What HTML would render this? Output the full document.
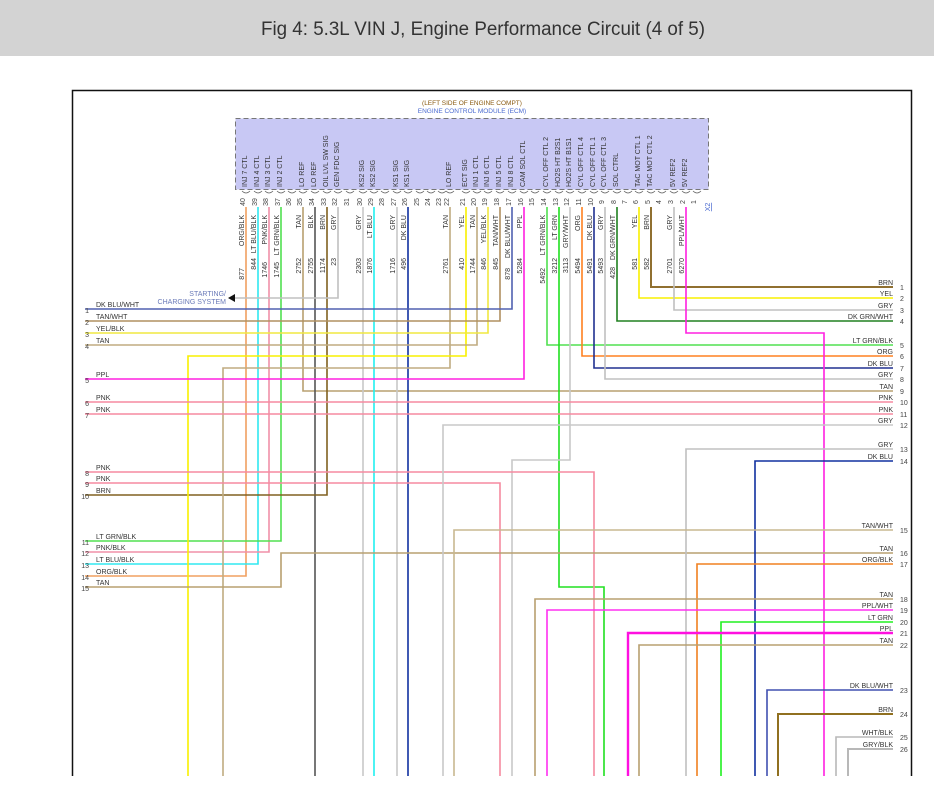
<!DOCTYPE html>
<html><head><meta charset="utf-8"><style>
html,body{margin:0;padding:0;background:#fff;}
svg{display:block;font-family:"Liberation Sans",sans-serif;}
.t{font-size:7px;fill:#333;}
.n{font-size:7px;fill:#444;}
</style></head><body>
<svg width="934" height="805" viewBox="0 0 934 805" xmlns="http://www.w3.org/2000/svg">
<rect x="0" y="0" width="934" height="56" fill="#d3d3d3"/>
<text x="483" y="35" text-anchor="middle" font-size="19" fill="#333" textLength="444" lengthAdjust="spacingAndGlyphs">Fig 4: 5.3L VIN J, Engine Performance Circuit (4 of 5)</text>
<path d="M72.5 776 V90.5 H911.5 V776" fill="none" stroke="#111" stroke-width="1.5"/>

<text x="472" y="105" text-anchor="middle" font-size="6.5" fill="#8a5a10">(LEFT SIDE OF ENGINE COMPT)</text>
<text x="472" y="113" text-anchor="middle" font-size="6.5" fill="#4a6ad0">ENGINE CONTROL MODULE (ECM)</text>
<rect x="235.5" y="118.5" width="473" height="71" fill="#c8c8f4" stroke="#777" stroke-dasharray="5,3"/>

<g fill="none" stroke-width="1.6">
<polyline points="246,207 246,576 85,576" stroke="#f0a060"/>
<polyline points="258,207 258,564 85,564" stroke="#30e8f0"/>
<polyline points="269,207 269,552 85,552" stroke="#f090a8"/>
<polyline points="281,207 281,541 85,541" stroke="#50e050"/>
<polyline points="303,207 303,391 893,391" stroke="#b8a070"/>
<polyline points="315,207 315,776" stroke="#555"/>
<polyline points="327,207 327,495 85,495" stroke="#806020"/>
<polyline points="338,207 338,298 232,298" stroke="#c0c0c0"/>
<polyline points="363,207 363,776" stroke="#c8c8c8"/>
<polyline points="374,207 374,776" stroke="#20f0f0"/>
<polyline points="397,207 397,776" stroke="#c8c8c8"/>
<polyline points="408,207 408,776" stroke="#1030a0"/>
<polyline points="450,207 450,368 223,368 223,776" stroke="#c0ac80"/>
<polyline points="466,207 466,356 188,356 188,776" stroke="#f8f000"/>
<polyline points="477,207 477,345 85,345" stroke="#c0ac80"/>
<polyline points="488,207 488,333 85,333" stroke="#f0e840"/>
<polyline points="500,207 500,321 85,321" stroke="#b09060"/>
<polyline points="512,207 512,309 85,309" stroke="#5060b0"/>
<polyline points="524,207 524,379 85,379" stroke="#ff20e0"/>
<polyline points="547,207 547,345 893,345" stroke="#50e050"/>
<polyline points="559,207 559,587 604,587 604,776" stroke="#20e020"/>
<polyline points="570,207 570,460 512,460 512,776" stroke="#c8c8c8"/>
<polyline points="582,207 582,356 893,356" stroke="#ff8020"/>
<polyline points="594,207 594,368 893,368" stroke="#203090"/>
<polyline points="605,207 605,379 893,379" stroke="#c0c0c0"/>
<polyline points="617,207 617,321 893,321" stroke="#208020"/>
<polyline points="639,207 639,298 893,298" stroke="#f8f000"/>
<polyline points="651,207 651,287 893,287" stroke="#907030" stroke-width="2"/>
<polyline points="674,207 674,310 893,310" stroke="#c0c0c0"/>
<polyline points="686,207 686,333 824,333 824,776" stroke="#ff20e0"/>
<polyline points="85,402 893,402" stroke="#f58aa0"/>
<polyline points="85,414 893,414" stroke="#f58aa0"/>
<polyline points="85,472 594,472 594,776" stroke="#f58aa0"/>
<polyline points="85,483 500,483 500,776" stroke="#f58aa0"/>
<polyline points="85,587 281,587 281,553 893,553" stroke="#b8a070"/>
<polyline points="893,425 443,425 443,776" stroke="#c8c8c8"/>
<polyline points="893,449 686,449 686,776" stroke="#c0c0c0"/>
<polyline points="893,461 755,461 755,776" stroke="#1030a0"/>
<polyline points="893,530 454,530 454,776" stroke="#c8b890"/>
<polyline points="893,564 697,564 697,776" stroke="#f08020"/>
<polyline points="893,599 535,599 535,776" stroke="#b8a070"/>
<polyline points="893,610 547,610 547,776" stroke="#ff30f0"/>
<polyline points="893,622 721,622 721,776" stroke="#20f020"/>
<polyline points="893,633 628,633 628,776" stroke="#ff10e0" stroke-width="2.4"/>
<polyline points="893,645 639,645 639,776" stroke="#b8a070"/>
<polyline points="893,690 767,690 767,776" stroke="#4050b0"/>
<polyline points="893,714 778,714 778,776" stroke="#907020" stroke-width="2"/>
<polyline points="893,737 836,737 836,776" stroke="#b8b8b8"/>
<polyline points="893,749 848,749 848,776" stroke="#b8b8b8" stroke-width="2"/>
</g>
<polygon points="228,298 235,294 235,302" fill="#111"/>
<text x="226" y="296" text-anchor="end" font-size="7" fill="#6a7ab8">STARTING/</text>
<text x="226" y="304" text-anchor="end" font-size="7" fill="#6a7ab8">CHARGING SYSTEM</text>

<g fill="none" stroke="#666" stroke-width="0.8">
<path d="M242 191q4 4 8 0M254 191q4 4 8 0M265 191q4 4 8 0M277 191q4 4 8 0M288 191q4 4 8 0M299 191q4 4 8 0M311 191q4 4 8 0M323 191q4 4 8 0M334 191q4 4 8 0M346 191q4 4 8 0M359 191q4 4 8 0M370 191q4 4 8 0M381 191q4 4 8 0M393 191q4 4 8 0M404 191q4 4 8 0M416 191q4 4 8 0M427 191q4 4 8 0M438 191q4 4 8 0M446 191q4 4 8 0M462 191q4 4 8 0M473 191q4 4 8 0M484 191q4 4 8 0M496 191q4 4 8 0M508 191q4 4 8 0M520 191q4 4 8 0M531 191q4 4 8 0M543 191q4 4 8 0M555 191q4 4 8 0M566 191q4 4 8 0M578 191q4 4 8 0M590 191q4 4 8 0M601 191q4 4 8 0M613 191q4 4 8 0M624 191q4 4 8 0M635 191q4 4 8 0M647 191q4 4 8 0M658 191q4 4 8 0M670 191q4 4 8 0M682 191q4 4 8 0M693 191q4 4 8 0"/>
</g>

<g class="t">
<text transform="translate(247,187) rotate(-90)">INJ 7 CTL</text>
<text transform="translate(259,187) rotate(-90)">INJ 4 CTL</text>
<text transform="translate(270,187) rotate(-90)">INJ 3 CTL</text>
<text transform="translate(282,187) rotate(-90)">INJ 2 CTL</text>
<text transform="translate(304,187) rotate(-90)">LO REF</text>
<text transform="translate(316,187) rotate(-90)">LO REF</text>
<text transform="translate(328,187) rotate(-90)">OIL LVL SW SIG</text>
<text transform="translate(339,187) rotate(-90)">GEN FDC SIG</text>
<text transform="translate(364,187) rotate(-90)">KS2 SIG</text>
<text transform="translate(375,187) rotate(-90)">KS2 SIG</text>
<text transform="translate(398,187) rotate(-90)">KS1 SIG</text>
<text transform="translate(409,187) rotate(-90)">KS1 SIG</text>
<text transform="translate(451,187) rotate(-90)">LO REF</text>
<text transform="translate(467,187) rotate(-90)">ECT SIG</text>
<text transform="translate(478,187) rotate(-90)">INJ 1 CTL</text>
<text transform="translate(489,187) rotate(-90)">INJ 6 CTL</text>
<text transform="translate(501,187) rotate(-90)">INJ 5 CTL</text>
<text transform="translate(513,187) rotate(-90)">INJ 8 CTL</text>
<text transform="translate(525,187) rotate(-90)">CAM SOL CTL</text>
<text transform="translate(548,187) rotate(-90)">CYL OFF CTL 2</text>
<text transform="translate(560,187) rotate(-90)">HO2S HT B2S1</text>
<text transform="translate(571,187) rotate(-90)">HO2S HT B1S1</text>
<text transform="translate(583,187) rotate(-90)">CYL OFF CTL 4</text>
<text transform="translate(595,187) rotate(-90)">CYL OFF CTL 1</text>
<text transform="translate(606,187) rotate(-90)">CYL OFF CTL 3</text>
<text transform="translate(618,187) rotate(-90)">SOL CTRL</text>
<text transform="translate(640,187) rotate(-90)">TAC MOT CTL 1</text>
<text transform="translate(652,187) rotate(-90)">TAC MOT CTL 2</text>
<text transform="translate(675,187) rotate(-90)">5V REF2</text>
<text transform="translate(687,187) rotate(-90)">5V REF2</text>
</g>

<g class="n" text-anchor="middle">
<text transform="translate(245,202) rotate(-90)">40</text>
<text transform="translate(257,202) rotate(-90)">39</text>
<text transform="translate(268,202) rotate(-90)">38</text>
<text transform="translate(280,202) rotate(-90)">37</text>
<text transform="translate(291,202) rotate(-90)">36</text>
<text transform="translate(302,202) rotate(-90)">35</text>
<text transform="translate(314,202) rotate(-90)">34</text>
<text transform="translate(326,202) rotate(-90)">33</text>
<text transform="translate(337,202) rotate(-90)">32</text>
<text transform="translate(349,202) rotate(-90)">31</text>
<text transform="translate(362,202) rotate(-90)">30</text>
<text transform="translate(373,202) rotate(-90)">29</text>
<text transform="translate(384,202) rotate(-90)">28</text>
<text transform="translate(396,202) rotate(-90)">27</text>
<text transform="translate(407,202) rotate(-90)">26</text>
<text transform="translate(419,202) rotate(-90)">25</text>
<text transform="translate(430,202) rotate(-90)">24</text>
<text transform="translate(441,202) rotate(-90)">23</text>
<text transform="translate(449,202) rotate(-90)">22</text>
<text transform="translate(465,202) rotate(-90)">21</text>
<text transform="translate(476,202) rotate(-90)">20</text>
<text transform="translate(487,202) rotate(-90)">19</text>
<text transform="translate(499,202) rotate(-90)">18</text>
<text transform="translate(511,202) rotate(-90)">17</text>
<text transform="translate(523,202) rotate(-90)">16</text>
<text transform="translate(534,202) rotate(-90)">15</text>
<text transform="translate(546,202) rotate(-90)">14</text>
<text transform="translate(558,202) rotate(-90)">13</text>
<text transform="translate(569,202) rotate(-90)">12</text>
<text transform="translate(581,202) rotate(-90)">11</text>
<text transform="translate(593,202) rotate(-90)">10</text>
<text transform="translate(604,202) rotate(-90)">9</text>
<text transform="translate(616,202) rotate(-90)">8</text>
<text transform="translate(627,202) rotate(-90)">7</text>
<text transform="translate(638,202) rotate(-90)">6</text>
<text transform="translate(650,202) rotate(-90)">5</text>
<text transform="translate(661,202) rotate(-90)">4</text>
<text transform="translate(673,202) rotate(-90)">3</text>
<text transform="translate(685,202) rotate(-90)">2</text>
<text transform="translate(696,202) rotate(-90)">1</text>
</g>
<text transform="translate(710,207) rotate(-90)" text-anchor="middle" font-size="7" fill="#4a6ad0" text-decoration="underline">X2</text>

<g class="t" text-anchor="end">
<text transform="translate(244,215) rotate(-90)">ORG/BLK</text>
<text transform="translate(256,215) rotate(-90)">LT BLU/BLK</text>
<text transform="translate(267,215) rotate(-90)">PNK/BLK</text>
<text transform="translate(279,215) rotate(-90)">LT GRN/BLK</text>
<text transform="translate(301,215) rotate(-90)">TAN</text>
<text transform="translate(313,215) rotate(-90)">BLK</text>
<text transform="translate(325,215) rotate(-90)">BRN</text>
<text transform="translate(336,215) rotate(-90)">GRY</text>
<text transform="translate(361,215) rotate(-90)">GRY</text>
<text transform="translate(372,215) rotate(-90)">LT BLU</text>
<text transform="translate(395,215) rotate(-90)">GRY</text>
<text transform="translate(406,215) rotate(-90)">DK BLU</text>
<text transform="translate(448,215) rotate(-90)">TAN</text>
<text transform="translate(464,215) rotate(-90)">YEL</text>
<text transform="translate(475,215) rotate(-90)">TAN</text>
<text transform="translate(486,215) rotate(-90)">YEL/BLK</text>
<text transform="translate(498,215) rotate(-90)">TAN/WHT</text>
<text transform="translate(510,215) rotate(-90)">DK BLU/WHT</text>
<text transform="translate(522,215) rotate(-90)">PPL</text>
<text transform="translate(545,215) rotate(-90)">LT GRN/BLK</text>
<text transform="translate(557,215) rotate(-90)">LT GRN</text>
<text transform="translate(568,215) rotate(-90)">GRY/WHT</text>
<text transform="translate(580,215) rotate(-90)">ORG</text>
<text transform="translate(592,215) rotate(-90)">DK BLU</text>
<text transform="translate(603,215) rotate(-90)">GRY</text>
<text transform="translate(615,215) rotate(-90)">DK GRN/WHT</text>
<text transform="translate(637,215) rotate(-90)">YEL</text>
<text transform="translate(649,215) rotate(-90)">BRN</text>
<text transform="translate(672,215) rotate(-90)">GRY</text>
<text transform="translate(684,215) rotate(-90)">PPL/WHT</text>

<text transform="translate(244,268) rotate(-90)">877</text>
<text transform="translate(256,258) rotate(-90)">844</text>
<text transform="translate(267,262) rotate(-90)">1746</text>
<text transform="translate(279,262) rotate(-90)">1745</text>
<text transform="translate(301,258) rotate(-90)">2752</text>
<text transform="translate(313,258) rotate(-90)">2755</text>
<text transform="translate(325,258) rotate(-90)">1174</text>
<text transform="translate(336,258) rotate(-90)">23</text>
<text transform="translate(361,258) rotate(-90)">2303</text>
<text transform="translate(372,258) rotate(-90)">1876</text>
<text transform="translate(395,258) rotate(-90)">1716</text>
<text transform="translate(406,258) rotate(-90)">496</text>
<text transform="translate(448,258) rotate(-90)">2761</text>
<text transform="translate(464,258) rotate(-90)">410</text>
<text transform="translate(475,258) rotate(-90)">1744</text>
<text transform="translate(486,258) rotate(-90)">846</text>
<text transform="translate(498,258) rotate(-90)">845</text>
<text transform="translate(510,268) rotate(-90)">878</text>
<text transform="translate(522,258) rotate(-90)">5284</text>
<text transform="translate(545,268) rotate(-90)">5492</text>
<text transform="translate(557,258) rotate(-90)">3212</text>
<text transform="translate(568,258) rotate(-90)">3113</text>
<text transform="translate(580,258) rotate(-90)">5494</text>
<text transform="translate(592,258) rotate(-90)">5491</text>
<text transform="translate(603,258) rotate(-90)">5493</text>
<text transform="translate(615,267) rotate(-90)">428</text>
<text transform="translate(637,258) rotate(-90)">581</text>
<text transform="translate(649,258) rotate(-90)">582</text>
<text transform="translate(672,258) rotate(-90)">2701</text>
<text transform="translate(684,258) rotate(-90)">6270</text>
</g>

<g class="t">
<text x="96" y="307">DK BLU/WHT</text><text x="96" y="319">TAN/WHT</text><text x="96" y="331">YEL/BLK</text><text x="96" y="343">TAN</text>
<text x="96" y="377">PPL</text><text x="96" y="400">PNK</text><text x="96" y="412">PNK</text>
<text x="96" y="470">PNK</text><text x="96" y="481">PNK</text><text x="96" y="493">BRN</text>
<text x="96" y="539">LT GRN/BLK</text><text x="96" y="550">PNK/BLK</text><text x="96" y="562">LT BLU/BLK</text><text x="96" y="574">ORG/BLK</text><text x="96" y="585">TAN</text>
</g>
<g class="n" text-anchor="end">
<text x="89" y="313">1</text><text x="89" y="325">2</text><text x="89" y="337">3</text><text x="89" y="349">4</text>
<text x="89" y="383">5</text><text x="89" y="406">6</text><text x="89" y="418">7</text>
<text x="89" y="476">8</text><text x="89" y="487">9</text><text x="89" y="499">10</text>
<text x="89" y="545">11</text><text x="89" y="556">12</text><text x="89" y="568">13</text><text x="89" y="580">14</text><text x="89" y="591">15</text>
</g>
<g class="t" text-anchor="end">
<text x="893" y="285">BRN</text><text x="893" y="296">YEL</text><text x="893" y="308">GRY</text><text x="893" y="319">DK GRN/WHT</text>
<text x="893" y="343">LT GRN/BLK</text><text x="893" y="354">ORG</text><text x="893" y="366">DK BLU</text><text x="893" y="377">GRY</text>
<text x="893" y="389">TAN</text><text x="893" y="400">PNK</text><text x="893" y="412">PNK</text><text x="893" y="423">GRY</text>
<text x="893" y="447">GRY</text><text x="893" y="459">DK BLU</text>
<text x="893" y="528">TAN/WHT</text><text x="893" y="551">TAN</text><text x="893" y="562">ORG/BLK</text>
<text x="893" y="597">TAN</text><text x="893" y="608">PPL/WHT</text><text x="893" y="620">LT GRN</text><text x="893" y="631">PPL</text><text x="893" y="643">TAN</text>
<text x="893" y="688">DK BLU/WHT</text><text x="893" y="712">BRN</text><text x="893" y="735">WHT/BLK</text><text x="893" y="747">GRY/BLK</text>
</g>
<g class="n">
<text x="900" y="290">1</text><text x="900" y="301">2</text><text x="900" y="313">3</text><text x="900" y="324">4</text>
<text x="900" y="348">5</text><text x="900" y="359">6</text><text x="900" y="371">7</text><text x="900" y="382">8</text>
<text x="900" y="394">9</text><text x="900" y="405">10</text><text x="900" y="417">11</text><text x="900" y="428">12</text>
<text x="900" y="452">13</text><text x="900" y="464">14</text>
<text x="900" y="533">15</text><text x="900" y="556">16</text><text x="900" y="567">17</text>
<text x="900" y="602">18</text><text x="900" y="613">19</text><text x="900" y="625">20</text><text x="900" y="636">21</text><text x="900" y="648">22</text>
<text x="900" y="693">23</text><text x="900" y="717">24</text><text x="900" y="740">25</text><text x="900" y="752">26</text>
</g>
</svg>
</body></html>
